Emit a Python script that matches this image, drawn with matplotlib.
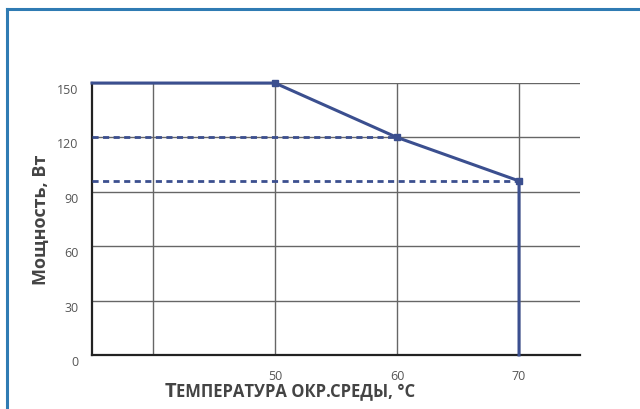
import matplotlib.pyplot as plt
from matplotlib.lines import Line2D

# derating curve
temp = [35, 50, 60, 70, 70]
power = [150, 150, 120, 96, 0]
mark_t = [50, 60, 70]
mark_p = [150, 120, 96]
levels = [120, 96]
level_ends = [60, 70]

xticks = [50, 60, 70]
yticks = [0, 30, 60, 90, 120, 150]

blue = '#3b4f8f'
gray_txt = '#555555'

fig = plt.figure(figsize=(6.4, 4.1), dpi=100)
ax = fig.add_axes([0.1438, 0.1317, 0.7625, 0.6633])

ax.set_xlim(35, 75)
ax.set_ylim(0, 150)

# grid
for x in [40, 50, 60, 70]:
    ax.axvline(x, color='#666666', lw=1.0, zorder=1)
for y in yticks[1:]:
    ax.axhline(y, color='#666666', lw=1.0, zorder=1)

for lv, end in zip(levels, level_ends):
    ax.plot([35, end], [lv, lv], color=blue, lw=2.0, ls=(0, (2.2, 1.6)), zorder=3)

ax.plot(temp, power, color=blue, lw=2.2, zorder=4, clip_on=False)
ax.plot(mark_t, mark_p, ls='none', marker='s', ms=5, color=blue, zorder=5, clip_on=False)

for s in ['top', 'right']:
    ax.spines[s].set_visible(False)
ax.spines['left'].set_color('#222222')
ax.spines['bottom'].set_color('#222222')
ax.spines['left'].set_linewidth(1.6)
ax.spines['bottom'].set_linewidth(1.6)

ax.set_xticks(xticks)
ax.set_yticks(yticks)
ax.tick_params(length=0, labelsize=9, labelcolor=gray_txt)
ax.tick_params(axis='x', pad=10)
ax.tick_params(axis='y', pad=10)
for lab in ax.get_yticklabels():
    lab.set_fontfamily('Open Sans')
    lab.set_va('top')
for lab in ax.get_xticklabels():
    lab.set_fontfamily('Open Sans')

ax.set_ylabel('Мощность, Вт', fontsize=13, fontweight='bold', color='#444444',
              family='Open Sans', labelpad=5)

fig.text(176 / 640, 1 - 397 / 410, 'Т', fontsize=14.5, fontweight='bold',
         color='#444444', family='Open Sans', ha='right', va='baseline')
fig.text(176 / 640, 1 - 397 / 410, 'ЕМПЕРАТУРА ОКР.СРЕДЫ, °C', fontsize=12,
         fontweight='bold', color='#444444', family='Open Sans', ha='left', va='baseline')

# outer frame (top and left only)
frame_c = '#2f7bb3'
fig.add_artist(Line2D([6.5 / 640, 1], [1 - 9.5 / 410, 1 - 9.5 / 410], color=frame_c, lw=2.2,
                      transform=fig.transFigure))
fig.add_artist(Line2D([6.5 / 640, 6.5 / 640], [0, 1 - 9.5 / 410], color=frame_c, lw=2.2,
                      transform=fig.transFigure))

fig.savefig('out.png', dpi=100)
